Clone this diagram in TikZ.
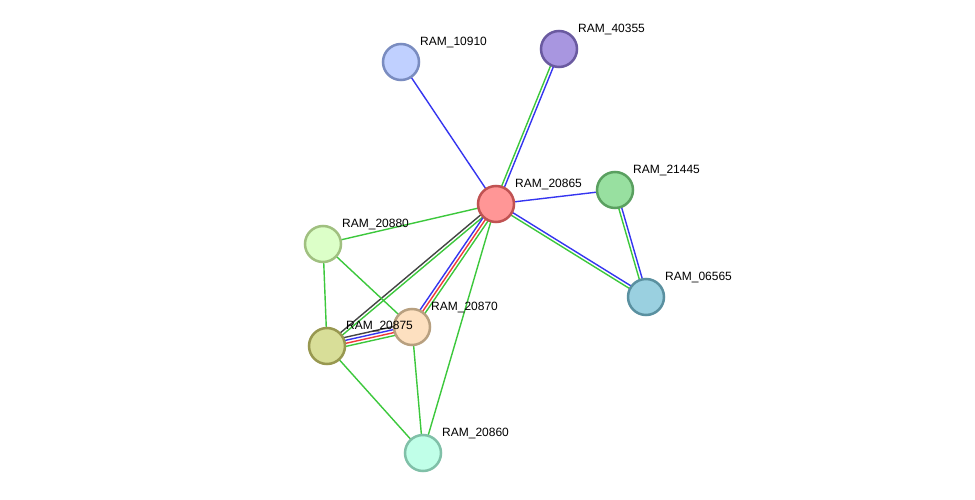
\documentclass[tikz,border=0pt]{standalone}
\usepackage{fontspec}
\setmainfont{Liberation Sans}
\usetikzlibrary{calc,backgrounds}

\definecolor{lgreen}{HTML}{3CC83C}
\definecolor{lblue}{HTML}{3535F0}
\definecolor{lred}{HTML}{F03A3A}
\definecolor{lgray}{HTML}{444444}

% one line of an edge, shifted sideways by #3
\newcommand{\link}[4]{\draw[edge,#4] ($(#1)!#3!90:(#2)$) -- ($(#2)!#3!-90:(#1)$);}

\begin{document}
\begin{tikzpicture}[
    x=1pt, y=1pt,
    prot/.style={circle, draw, line width=2.5pt, minimum size=36pt, inner sep=0pt},
    lbl/.style={anchor=west, inner sep=0pt, font=\fontsize{12}{14}\selectfont},
    edge/.style={line width=1.4pt}
]
% proteins
\node[prot, fill={rgb,255:red,255;green,150;blue,150}, draw={rgb,255:red,192;green,82;blue,82}] (p20865) at (496,295) {};
\node[prot, fill={rgb,255:red,192;green,208;blue,255}, draw={rgb,255:red,122;green,140;blue,192}] (p10910) at (401,437) {};
\node[prot, fill={rgb,255:red,168;green,150;blue,224}, draw={rgb,255:red,106;green,90;blue,160}] (p40355) at (559,450) {};
\node[prot, fill={rgb,255:red,152;green,224;blue,160}, draw={rgb,255:red,90;green,160;blue,96}] (p21445) at (615,309) {};
\node[prot, fill={rgb,255:red,154;green,208;blue,224}, draw={rgb,255:red,90;green,144;blue,160}] (p06565) at (646,202) {};
\node[prot, fill={rgb,255:red,220;green,255;blue,200}, draw={rgb,255:red,160;green,192;blue,128}] (p20880) at (323,255) {};
\node[prot, fill={rgb,255:red,216;green,222;blue,152}, draw={rgb,255:red,152;green,152;blue,80}] (p20875) at (327,153) {};
\node[prot, fill={rgb,255:red,253;green,224;blue,192}, draw={rgb,255:red,184;green,160;blue,128}] (p20870) at (412,172) {};
\node[prot, fill={rgb,255:red,192;green,255;blue,232}, draw={rgb,255:red,128;green,192;blue,168}] (p20860) at (423,46) {};
% labels
\node[lbl] (t20865) at ($(p20865)+(19,19)$) {RAM\_20865};
\node[lbl] (t10910) at ($(p10910)+(19,19)$) {RAM\_10910};
\node[lbl] (t40355) at ($(p40355)+(19,19)$) {RAM\_40355};
\node[lbl] (t21445) at ($(p21445)+(18,19)$) {RAM\_21445};
\node[lbl] (t06565) at ($(p06565)+(19,19)$) {RAM\_06565};
\node[lbl] (t20880) at ($(p20880)+(19,19)$) {RAM\_20880};
\node[lbl] (t20875) at ($(p20875)+(19,19)$) {RAM\_20875};
\node[lbl] (t20870) at ($(p20870)+(19,19)$) {RAM\_20870};
\node[lbl] (t20860) at ($(p20860)+(19,19)$) {RAM\_20860};

\begin{pgfonlayer}{background}
\path[use as bounding box, fill=white] (0,0) rectangle (975,499);
% edges
\link{p20865}{p10910}{0pt}{lblue}
\link{p20865}{p40355}{1.5pt}{lgreen}
\link{p20865}{p40355}{-1.5pt}{lblue}
\link{p20865}{p21445}{0pt}{lblue}
\link{p20865}{p06565}{1.5pt}{lblue}
\link{p20865}{p06565}{-1.5pt}{lgreen}
\link{p21445}{p06565}{-1.5pt}{lgreen}
\link{p21445}{p06565}{1.5pt}{lblue}
\link{p20865}{p20880}{0pt}{lgreen}
\link{p20865}{p20875}{-1.5pt}{lgray}
\link{p20865}{p20875}{1.5pt}{lgreen}
\link{p20865}{p20870}{-3pt}{lblue}
\link{p20865}{p20870}{0pt}{lred}
\link{p20865}{p20870}{3pt}{lgreen}
\link{p20865}{p20860}{0pt}{lgreen}
\link{p20880}{p20875}{0pt}{lgreen}
\link{p20880}{p20870}{0pt}{lgreen}
\link{p20875}{p20870}{4.5pt}{lgray}
\link{p20875}{p20870}{1.5pt}{lblue}
\link{p20875}{p20870}{-1.5pt}{lred}
\link{p20875}{p20870}{-4.5pt}{lgreen}
\link{p20875}{p20860}{0pt}{lgreen}
\link{p20870}{p20860}{0pt}{lgreen}
\end{pgfonlayer}
\end{tikzpicture}
\end{document}
